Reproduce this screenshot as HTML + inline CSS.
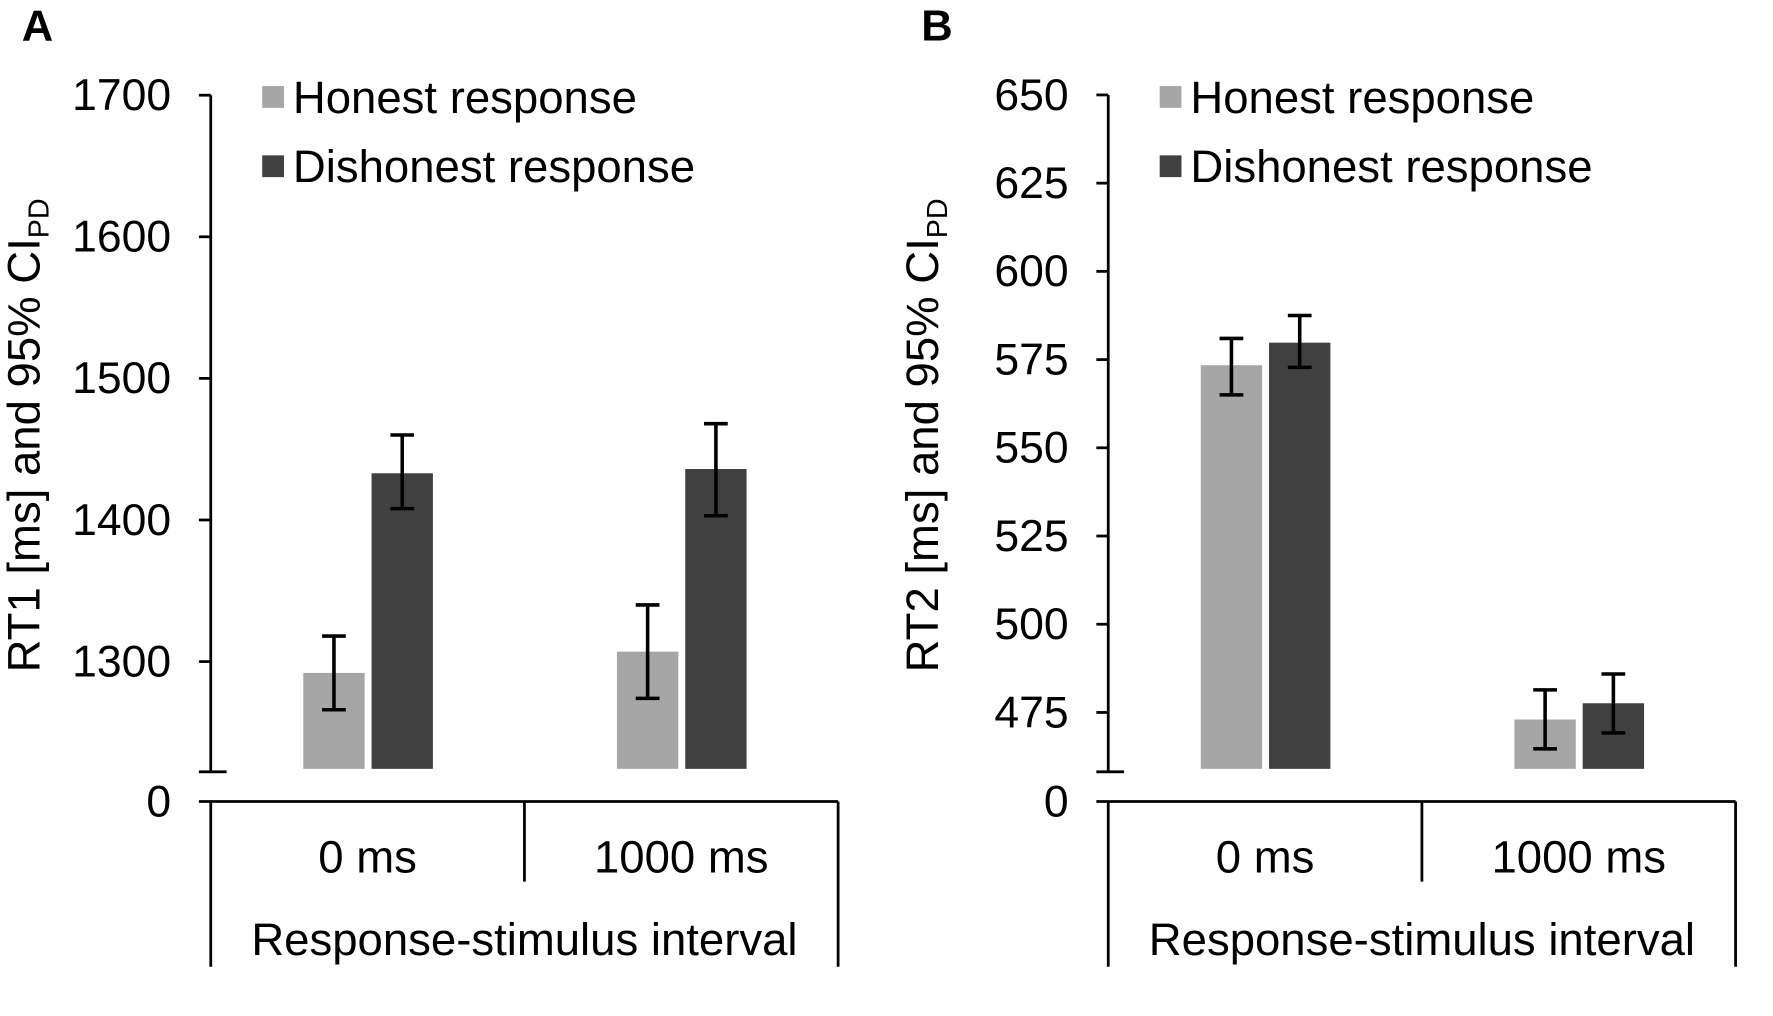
<!DOCTYPE html>
<html><head><meta charset="utf-8"><style>
html,body{margin:0;padding:0;background:#fff;}
svg{display:block;font-family:"Liberation Sans",Arial,sans-serif;}
</style></head><body>
<svg width="1773" height="1016" viewBox="0 0 1773 1016" xmlns="http://www.w3.org/2000/svg"><g id="chart" transform="scale(0.9895)"></g></svg>
<script>
const categories = ["0 ms", "1000 ms"];
const seriesNames = ["Honest response", "Dishonest response"];
const colors = ["#a6a6a6", "#404040"];
// Panel A (RT1)
const aTicks = [1300, 1400, 1500, 1600, 1700];
const aHonest = [1292, 1307];
const aHonestLo = [1266, 1274];
const aHonestHi = [1318, 1340];
const aDishonest = [1433, 1436];
const aDishonestLo = [1408, 1403];
const aDishonestHi = [1460, 1468];
// Panel B (RT2)
const bTicks = [475, 500, 525, 550, 575, 600, 625, 650];
const bHonest = [573.4, 473];
const bHonestLo = [565, 464.7];
const bHonestHi = [581, 481.4];
const bDishonest = [579.8, 477.6];
const bDishonestLo = [572.8, 469.2];
const bDishonestHi = [587.5, 485.9];

const NS = "http://www.w3.org/2000/svg";
const svg = document.getElementById("chart");
function mk(tag, attrs, parent, text) {
  const e = document.createElementNS(NS, tag);
  for (const k in attrs) e.setAttribute(k, attrs[k]);
  if (text !== undefined) e.textContent = text;
  (parent || svg).appendChild(e);
  return e;
}
function panel(cfg) {
  const g = mk("g", {});
  
  
  const ax = cfg.ax;
  const y = v => cfg.yRef - (v - cfg.vRef) * cfg.pxPer;
  const stroke = {stroke: "#000", "stroke-width": 2.8};
  const L = mk("text", {x: cfg.letterX, y: 41, "font-size": 44, "font-weight": "bold", fill: "#000"}, g, cfg.letter);
  
  
  const yl = mk("line", Object.assign({x1: ax, y1: y(cfg.vMax), x2: ax, y2: 780}, stroke), g);
  
  
  const br = mk("line", Object.assign({x1: ax - 12, y1: 780, x2: ax + 16, y2: 780}, stroke), g);
  
  
  cfg.ticks.forEach(t => {
    const ty = y(t);
    const tk = mk("line", Object.assign({x1: ax - 12, y1: ty, x2: ax, y2: ty}, stroke), g);
    
    
    const tl = mk("text", {x: ax - 40, y: ty + 15, "font-size": 45, "text-anchor": "end", fill: "#000"}, g, String(t));
    
    
  });
  const z = mk("text", {x: ax - 40, y: 825, "font-size": 45, "text-anchor": "end", fill: "#000"}, g, "0");
  
  
  const xl = mk("line", Object.assign({x1: ax - 12, y1: 810, x2: cfg.right, y2: 810}, stroke), g);
  
  
  const mid = (ax + cfg.right) / 2;
  [[ax, 977], [mid, 891], [cfg.right, 977]].forEach(p => {
    const s = mk("line", Object.assign({x1: p[0], y1: 810, x2: p[0], y2: p[1]}, stroke), g);
    
    
  });
  const slot = (cfg.right - ax) / categories.length;
  categories.forEach((c, i) => {
    const cx = ax + slot * (i + 0.5);
    const cl = mk("text", {x: cx, y: 882, "font-size": 46, "text-anchor": "middle", fill: "#000"}, g, c);
    
    
    const series = [[cfg.h, cfg.hLo, cfg.hHi], [cfg.d, cfg.dLo, cfg.dHi]];
    series.forEach((s, j) => {
      const bx = cx - 65 + j * 69;
      const top = y(s[0][i]);
      const r = mk("rect", {x: bx, y: top, width: 62, height: 777 - top, fill: colors[j]}, g);
      
      
      const ex = bx + 31;
      const eg = mk("g", {stroke: "#000", "stroke-width": 3.6}, g);
      
      
      mk("line", {x1: ex, y1: y(s[1][i]), x2: ex, y2: y(s[2][i])}, eg);
      mk("line", {x1: ex - 12, y1: y(s[1][i]), x2: ex + 12, y2: y(s[1][i])}, eg);
      mk("line", {x1: ex - 12, y1: y(s[2][i]), x2: ex + 12, y2: y(s[2][i])}, eg);
    });
  });
  const xt = mk("text", {x: mid, y: 965, "font-size": 46, "text-anchor": "middle", fill: "#000"}, g, "Response-stimulus interval");
  
  
  const yt = mk("text", {x: 0, y: 0, "font-size": 46, "text-anchor": "middle", fill: "#000",
    transform: `translate(${cfg.titleX},440) rotate(-90)`}, g);
  
  
  mk("tspan", {}, yt, cfg.title + " [ms] and 95% CI");
  mk("tspan", {"font-size": 29, dy: 9}, yt, "PD");
  seriesNames.forEach((n, j) => {
    const ly = 98 + j * 70;
    const lg = mk("g", {}, g);
    
    
    mk("rect", {x: ax + 52, y: ly - 11, width: 22, height: 22, fill: colors[j]}, lg);
    mk("text", {x: ax + 83, y: ly + 16, "font-size": 46, fill: "#000"}, lg, n);
  });
}
panel({name: "panel-a", letter: "A", letterX: 22, ax: 213, right: 847, yRef: 668.6, vRef: 1300, pxPer: 1.431,
  vMax: 1700, ticks: aTicks, h: aHonest, hLo: aHonestLo, hHi: aHonestHi, d: aDishonest, dLo: aDishonestLo, dHi: aDishonestHi,
  title: "RT1", titleX: 40});
panel({name: "panel-b", letter: "B", letterX: 931, ax: 1120, right: 1754, yRef: 720, vRef: 475, pxPer: 3.566,
  vMax: 650, ticks: bTicks, h: bHonest, hLo: bHonestLo, hHi: bHonestHi, d: bDishonest, dLo: bDishonestLo, dHi: bDishonestHi,
  title: "RT2", titleX: 948});
</script>
</body></html>
